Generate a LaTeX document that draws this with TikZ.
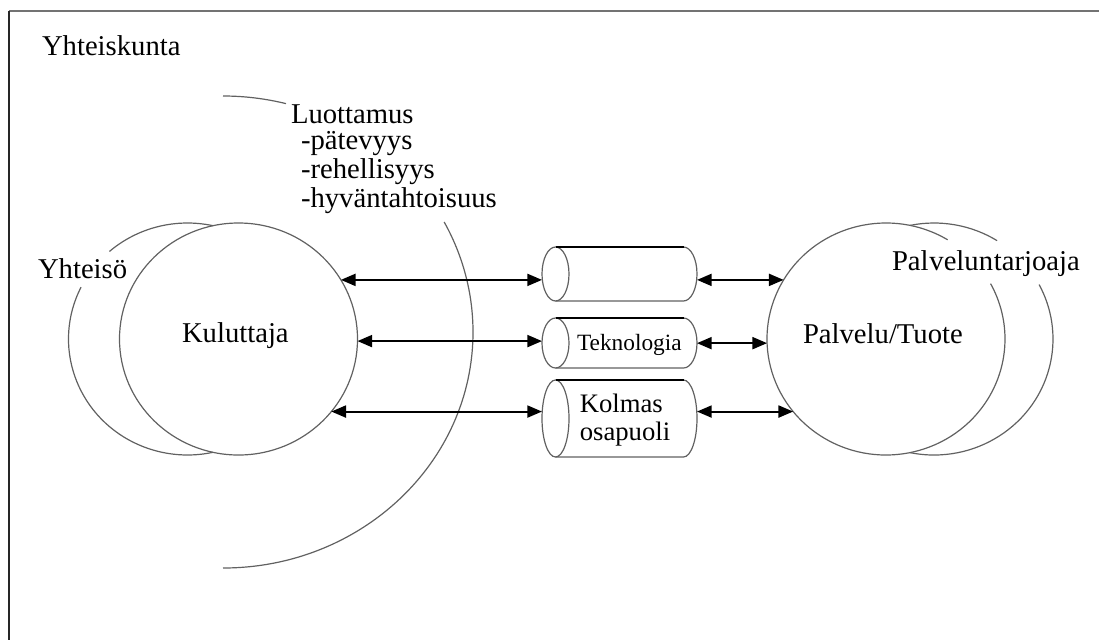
\documentclass[tikz,border=0pt]{standalone}
\usepackage{fontspec}
\setmainfont{Liberation Serif}
\usetikzlibrary{arrows.meta,shapes.geometric}
\begin{document}
\begin{tikzpicture}[x=0.75pt,y=-0.75pt,
  txt/.style={anchor=base west,inner sep=0pt,outer sep=0pt,font=\fontsize{21.5}{25}\selectfont},
  smalltxt/.style={anchor=base west,inner sep=0pt,outer sep=0pt,font=\fontsize{17.5}{20}\selectfont},
  circ/.style={draw=black!62,line width=0.9pt},
  hidden/.style={ellipse,draw=none,minimum width=178.5pt,minimum height=174pt,inner sep=0pt,outer sep=0pt},
  cylbox/.style={rectangle,draw=none,minimum width=116.25pt,inner sep=0pt,outer sep=0pt},
  cylline/.style={draw=black!62,line width=0.9pt},
  cyltop/.style={draw=black,line width=1.6pt},
  dar/.style={line width=1.5pt,{Triangle[length=11pt,width=9pt]}-{Triangle[length=11pt,width=9pt]}}
]
\useasboundingbox (0,0) rectangle (1099,640);
% frame
\draw[line width=2pt,black!55] (9,11) -- (1099,11);
\draw[line width=1.2pt,black!85] (9,11) -- (9,640);

% circle nodes (shapes used as connector ends)
\node[hidden] (kul) at (238.5,339) {};
\node[hidden] (pal) at (886,339) {};

% left circles
\draw[circ] (238.5,339) ellipse [x radius=119, y radius=116];
\draw[circ] (187.5,339) ++(-77.6:119 and 116) arc[start angle=-77.6, end angle=-131, x radius=119, y radius=116];
\draw[circ] (187.5,339) ++(-153.5:119 and 116) arc[start angle=-153.5, end angle=-282.4, x radius=119, y radius=116];

% right circles
\draw[circ] (886,339) ++(-58.8:119 and 116) arc[start angle=-58.8, end angle=-388.5, x radius=119, y radius=116];
\draw[circ] (934,339) ++(101.6:119 and 116) arc[start angle=101.6, end angle=-28, x radius=119, y radius=116];
\draw[circ] (934,339) ++(-58:119 and 116) arc[start angle=-58, end angle=-101.6, x radius=119, y radius=116];

% big trust arc
\draw[circ] (223,332) ++(-75.4:250 and 236) arc[start angle=-75.4, end angle=-90, x radius=250, y radius=236];
\draw[circ] (223,332) ++(90:250 and 236) arc[start angle=90, end angle=-27.8, x radius=250, y radius=236];

% cylinders
\node[cylbox,minimum height=40.5pt] (cyl1) at (619.5,274) {};
\draw[cylline] (555.5,274) ellipse [x radius=13.5, y radius=27];
\draw[cylline] (555.5,301) -- (683.5,301) arc[start angle=90, end angle=-90, x radius=13.5, y radius=27];
\draw[cyltop] (555.5,247) -- (683.5,247);

\node[cylbox,minimum height=37.5pt] (cyl2) at (619.5,343) {};
\draw[cylline] (555.5,343) ellipse [x radius=13.5, y radius=25];
\draw[cylline] (555.5,368) -- (683.5,368) arc[start angle=90, end angle=-90, x radius=13.5, y radius=25];
\draw[cyltop] (555.5,318) -- (683.5,318);

\node[cylbox,minimum height=57.75pt] (cyl3) at (619.5,418.5) {};
\draw[cylline] (555.5,418.5) ellipse [x radius=13.5, y radius=38.5];
\draw[cylline] (555.5,457) -- (683.5,457) arc[start angle=90, end angle=-90, x radius=13.5, y radius=38.5];
\draw[cyltop] (555.5,380) -- (683.5,380);

% arrows
\draw[dar] (kul.30) -- (kul.30 -| cyl1.west);
\draw[dar] (kul.-1) -- (kul.-1 -| cyl2.west);
\draw[dar] (kul.-38) -- (kul.-38 -| cyl3.west);
\draw[dar] (cyl1.east |- pal.150) -- (pal.150);
\draw[dar] (cyl2.east |- pal.182) -- (pal.182);
\draw[dar] (cyl3.east |- pal.218) -- (pal.218);

% texts
\node[txt] (yhteiskunta) at (42,55) {Yhteiskunta};
\node[txt] (luottamus) at (291,123) {Luottamus};
\node[txt] (patevyys) at (301,149) {-pätevyys};
\node[txt] (rehellisyys) at (301,178) {-rehellisyys};
\node[txt] (hyvantahtoisuus) at (301,207) {-hyväntahtoisuus};
\node[txt] (yhteiso) at (38,278) {Yhteisö};
\node[txt] (kuluttaja) at (182,342) {Kuluttaja};
\node[txt] (palvelu) at (803,343) {Palvelu/Tuote};
\node[txt] (tarjoaja) at (892,270) {Pal\kern0.6pt velun\kern0.6pt tarjoaja};
\node[smalltxt] (tekno) at (577,350) {Teknologia};
\node[anchor=center,inner sep=0pt,outer sep=0pt,align=left,font=\fontsize{20}{20.5}\selectfont] (kolmas) at (625,420) {Kolmas\\osapuoli};
\end{tikzpicture}
\end{document}
